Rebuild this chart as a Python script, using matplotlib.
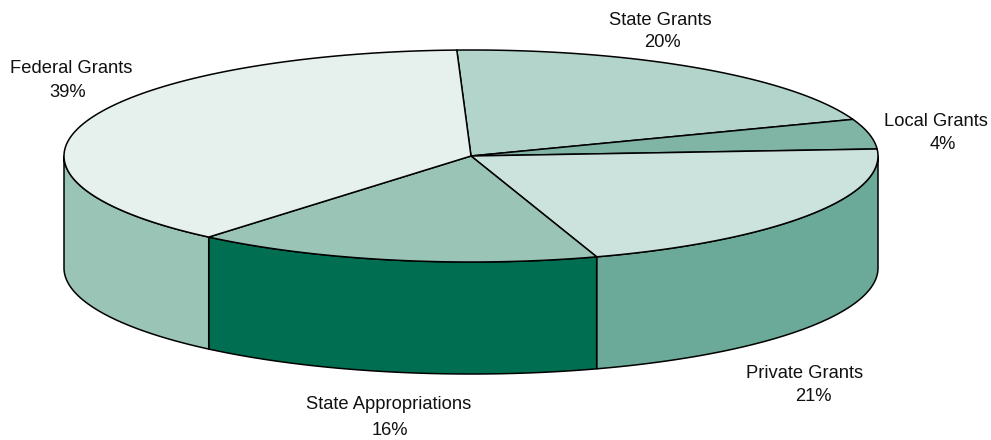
import numpy as np
import matplotlib
matplotlib.use("Agg")
import matplotlib.pyplot as plt
from matplotlib.patches import Polygon

plt.rcParams["font.family"] = ["Liberation Sans", "DejaVu Sans"]

labels = ["State Grants", "Local Grants", "Private Grants", "State Appropriations", "Federal Grants"]
percents = ["20%", "4%", "21%", "16%", "39%"]
# shares as drawn in the picture, the labels are rounded differently
values = [19.94, 4.56, 21.06, 16.14, 38.30]
top_colors = ["#b3d4ca", "#80b5a5", "#cce2dc", "#99c4b6", "#e6f0ec"]
side_colors = ["#b3d4ca", "#80b5a5", "#6baa98", "#006f51", "#99c4b6"]
# label centre x and baseline y, name and percent are not lined up exactly
name_pos = [(660, 25), (935.5, 126), (804.5, 378), (389, 409), (71.5, 73)]
pct_pos = [(662, 47), (943, 149), (813, 401), (389.5, 435), (67.5, 97)]

cx, cy = 471, 156
rx, ry = 407, 106
depth = 112
start = 92

def rim(a0, a1):
    t = np.radians(np.linspace(a0, a1, 200))
    return cx + rx * np.cos(t), cy - ry * np.sin(t)

fig = plt.figure(figsize=(9.91, 4.40), dpi=100)
ax = fig.add_axes([0, 0, 1, 1])
ax.set_xlim(0, 991)
ax.set_ylim(440, 0)
ax.axis("off")

# slices run clockwise from the start angle
ends = start - np.cumsum(values) * 3.6
begins = np.r_[start, ends[:-1]]

# side walls, only the front half of the ellipse shows
for a0, a1, col in zip(begins, ends, side_colors):
    hi = min(a0, 0)
    lo = max(a1, -180)
    if hi <= lo:
        continue
    x, y = rim(hi, lo)
    pts = np.r_[np.c_[x, y], np.c_[x[::-1], y[::-1] + depth]]
    ax.add_patch(Polygon(pts, closed=True, facecolor=col, edgecolor="black", lw=1.1, joinstyle="round"))

# top face
for a0, a1, col in zip(begins, ends, top_colors):
    x, y = rim(a0, a1)
    pts = np.r_[[[cx, cy]], np.c_[x, y]]
    ax.add_patch(Polygon(pts, closed=True, facecolor=col, edgecolor="black", lw=1.1, joinstyle="round"))

for name, p, np_, pp in zip(labels, percents, name_pos, pct_pos):
    ax.text(np_[0], np_[1], name, ha="center", va="baseline", fontsize=13.2, color="#111111")
    ax.text(pp[0], pp[1], p, ha="center", va="baseline", fontsize=13.2, color="#111111")

fig.savefig("out.png", dpi=100)
